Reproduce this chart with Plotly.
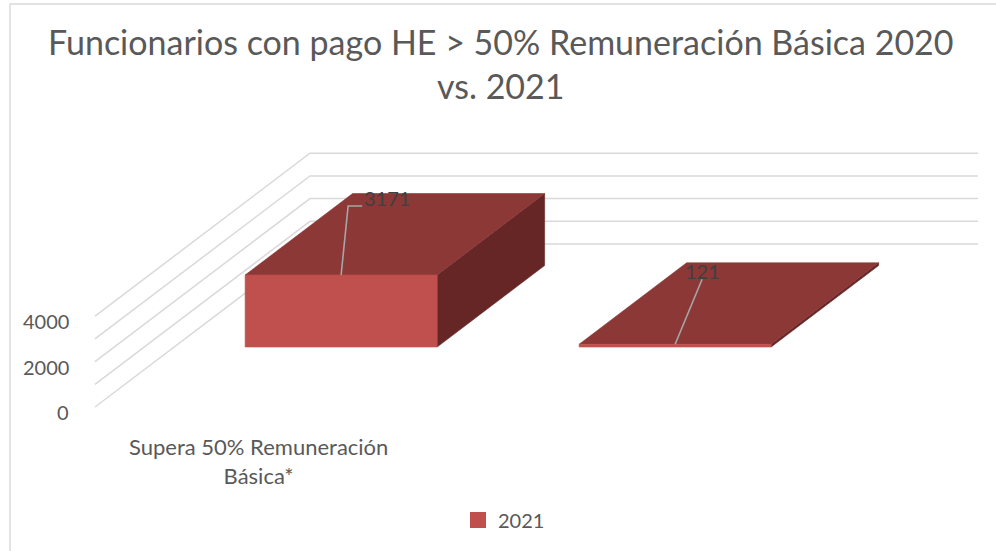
import plotly.graph_objects as go

# ---------------- data ----------------
categories = ["Supera 50% Remuneración<br>Básica*", ""]
values_2021 = [3171, 121]
series_name = "2021"
tick_values = [0, 2000, 4000]
tick_labels = ["0", "2000", "4000"]
grid_values = [0, 1000, 2000, 3000, 4000]
title_text = "Funcionarios con pago HE > 50% Remuneración Básica 2020<br>vs. 2021"

# ---------------- layout / style constants ----------------
W, H = 996, 551
FONT = "Lato"
TXT = "#595959"
FRONT, TOP, SIDE = "#C0504D", "#8B3837", "#652625"
GRID = "#D9D9D9"
CAT_PX = 334.0          # pixels per category on the floor front edge
X0_PX = 262.0           # pixel x of first category centre (front)
VAL_PX = 0.0227         # pixels per value unit
ZERO_PX = 407.0         # pixel y of value 0 on the front edge
DEPTH_PX = (215.0, 163.0)  # oblique depth vector (right, up) in pixels
BAR_T0, BAR_T1 = 0.368, 0.868
BAR_HALF = 0.2874       # half bar width, in category units

n = len(values_2021)


def proj(c, v, t):
    """Oblique projection of (category, value, depth) into the 2-D data space."""
    return c + t * DEPTH_PX[0] / CAT_PX, v + t * DEPTH_PX[1] / VAL_PX


def px_off(dx, dy):
    """pixel offset (right, down) -> data offset"""
    return dx / CAT_PX, -dy / VAL_PX


fig = go.Figure()

# gridlines: left wall + back wall
for g in grid_values:
    pts = [proj(-0.5, g, 0), proj(-0.5, g, 1), proj(n - 0.5, g, 1)]
    fig.add_trace(go.Scatter(x=[p[0] for p in pts], y=[p[1] for p in pts], mode="lines",
                             line=dict(color=GRID, width=1.5), hoverinfo="skip", showlegend=False))


def face(pts, color):
    xs = [p[0] for p in pts] + [pts[0][0]]
    ys = [p[1] for p in pts] + [pts[0][1]]
    fig.add_trace(go.Scatter(x=xs, y=ys, mode="lines", fill="toself", fillcolor=color,
                             line=dict(color=color, width=0.6), hoverinfo="skip", showlegend=False))


for i, v in enumerate(values_2021):
    l, r = i - BAR_HALF, i + BAR_HALF
    # right side
    face([proj(r, 0, BAR_T0), proj(r, 0, BAR_T1), proj(r, v, BAR_T1), proj(r, v, BAR_T0)], SIDE)
    # top
    face([proj(l, v, BAR_T0), proj(r, v, BAR_T0), proj(r, v, BAR_T1), proj(l, v, BAR_T1)], TOP)
    # front
    face([proj(l, 0, BAR_T0), proj(r, 0, BAR_T0), proj(r, v, BAR_T0), proj(l, v, BAR_T0)], FRONT)

# data labels with leader lines (offsets in pixels from the bar's front-top midpoint)
leader_offsets = [[(0, 0), (7, -69), (21, -69)], [(0, 0), (27, -65)]]
label_offsets = [(21, -77, "left"), (27, -73, "center")]
for i, v in enumerate(values_2021):
    bx, by = proj(i, v, BAR_T0)
    xs, ys = [], []
    for dx, dy in leader_offsets[i]:
        ox, oy = px_off(dx, dy)
        xs.append(bx + ox)
        ys.append(by + oy)
    fig.add_trace(go.Scatter(x=xs, y=ys, mode="lines", line=dict(color="#A6A6A6", width=1.6),
                             hoverinfo="skip", showlegend=False))
    lx, ly, anc = label_offsets[i]
    ox, oy = px_off(lx, ly)
    fig.add_annotation(x=bx + ox, y=by + oy, text=str(v), showarrow=False, xanchor=anc,
                       yanchor="middle", font=dict(family=FONT, size=20, color="#404040"))

# value axis tick labels
for tv, tl in zip(tick_values, tick_labels):
    x, y = proj(-0.5, tv, 0)
    fig.add_annotation(x=x, y=y, text=tl, showarrow=False, xanchor="right", yanchor="middle",
                       xshift=-24, yshift=-5, font=dict(family=FONT, size=20, color=TXT))

# category labels
for i, c in enumerate(categories):
    if c:
        fig.add_annotation(x=i, xref="x", y=1 - 461 / H, yref="paper", text=c, showarrow=False,
                           xanchor="center", yanchor="middle", xshift=-4,
                           font=dict(family=FONT, size=22, color=TXT))

# title
fig.add_annotation(x=0.5, xref="paper", y=1 - 63 / H, yref="paper", text=title_text,
                   showarrow=False, xanchor="center", yanchor="middle", xshift=3,
                   font=dict(family=FONT, size=34, color=TXT))

# legend entry
fig.add_trace(go.Scatter(x=[None], y=[None], mode="markers", name=series_name,
                         marker=dict(symbol="square", size=16, color=FRONT)))

# chart border
fig.add_shape(type="rect", xref="paper", yref="paper", x0=10 / W, x1=1.05, y0=-0.05, y1=1 - 4 / H,
              line=dict(color=GRID, width=1.4), fillcolor="rgba(0,0,0,0)", layer="below")

fig.update_layout(
    width=W, height=H,
    margin=dict(l=0, r=0, t=0, b=0),
    paper_bgcolor="white", plot_bgcolor="white",
    xaxis=dict(range=[-X0_PX / CAT_PX, (W - X0_PX) / CAT_PX], visible=False, fixedrange=True),
    yaxis=dict(range=[-(H - ZERO_PX) / VAL_PX, ZERO_PX / VAL_PX], visible=False, fixedrange=True),
    showlegend=True,
    legend=dict(orientation="h", x=0.5 + 6 / W, xanchor="center", y=1 - 520 / H, yanchor="middle",
                font=dict(family=FONT, size=20, color=TXT), bgcolor="rgba(0,0,0,0)"),
)

fig.write_html("out.html", config={"displayModeBar": False},
               post_script="document.body.style.margin='0';")
